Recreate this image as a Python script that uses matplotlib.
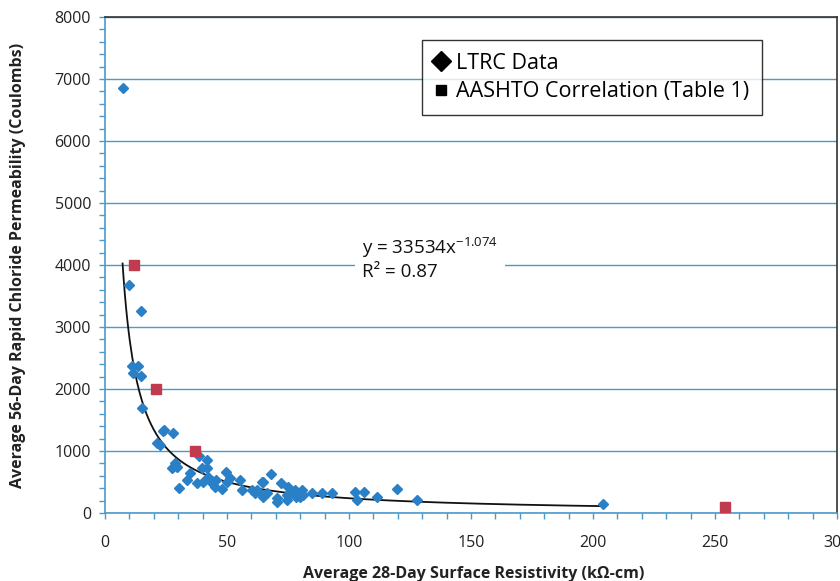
import numpy as np
import matplotlib
matplotlib.use("Agg")
import matplotlib.pyplot as plt
from matplotlib.lines import Line2D
from matplotlib.ticker import MultipleLocator

plt.rcParams['font.family'] = ['Open Sans', 'DejaVu Sans']
plt.rcParams['mathtext.fontset'] = 'custom'
plt.rcParams['mathtext.rm'] = 'Open Sans'

# LTRC data: 28-day surface resistivity (kOhm-cm) vs 56-day RCP (Coulombs)
ltrc_x = [7.2, 9.8, 10.9, 13.4, 11.6, 14.8, 14.6, 15.0,
          21.5, 22.5, 23.6, 24.2, 28.0, 27.3, 28.7, 29.4, 30.5, 33.5, 34.8,
          37.6, 38.7, 40.3, 39.6, 41.7, 41.7, 42.3, 43.7, 45.1, 45.5, 47.8,
          49.6, 50.2, 51.2, 55.3, 56.0, 60.1, 61.5, 62.5, 64.2, 64.6, 64.9,
          64.9, 66.2, 67.9, 70.4, 70.5, 72.0, 74.5, 74.5, 75.1, 75.8, 77.9,
          78.4, 79.9, 80.6, 81.3, 84.7, 88.8, 92.9, 102.5, 103.1, 106.1,
          111.6, 119.8, 127.7, 204.2]
ltrc_y = [6850, 3680, 2370, 2370, 2260, 2210, 3260, 1690,
          1124, 1097, 1328, 1339, 1285, 721, 801, 747, 398, 532, 640,
          479, 919, 505, 721, 855, 721, 586, 479, 414, 532, 382,
          667, 505, 559, 532, 371, 371, 317, 371, 505, 505, 290,
          263, 317, 624, 237, 183, 479, 210, 290, 424, 317, 371,
          263, 263, 371, 290, 317, 317, 317, 344, 210, 344,
          263, 382, 210, 145]

# AASHTO correlation (Table 1)
aashto_x = [12, 21, 37, 254]
aashto_y = [4000, 2000, 1000, 100]

# power trendline reported on the chart
fit_a = 33534
fit_b = -1.074

blue = '#2a80c6'
red = '#c13b4e'
axis_blue = '#4b9acb'

fig = plt.figure(figsize=(8.4, 5.81), dpi=100)
ax = fig.add_axes([0.125, 0.117, 0.8714, 0.8537])

ax.yaxis.grid(True, color=axis_blue, lw=1.0)
ax.set_axisbelow(True)

xf = np.linspace(min(ltrc_x), max(ltrc_x), 400)
ax.plot(xf, fit_a * xf ** fit_b, color='#111111', lw=1.3, zorder=2)
ax.plot(ltrc_x, ltrc_y, 'D', color=blue, ms=5.6, mec=blue, zorder=3)
ax.plot(aashto_x, aashto_y, 's', color=red, ms=7.2, mec=red, zorder=3)

ax.set_xlim(0, 300)
ax.set_ylim(0, 8000)
ax.xaxis.set_major_locator(MultipleLocator(50))
ax.xaxis.set_minor_locator(MultipleLocator(10))
ax.yaxis.set_major_locator(MultipleLocator(1000))
ax.yaxis.set_minor_locator(MultipleLocator(200))

for s in ['left', 'bottom']:
    ax.spines[s].set_color(axis_blue)
    ax.spines[s].set_linewidth(1.2)
for s in ['top', 'right']:
    ax.spines[s].set_color('#333333')
    ax.spines[s].set_linewidth(1.2)

ax.tick_params(axis='both', which='both', direction='out', color=axis_blue,
               length=4, width=1, labelsize=11.5, labelcolor='#222222')
ax.tick_params(axis='x', which='major', pad=12)
ax.tick_params(axis='y', which='major', pad=6)

ax.set_xlabel('Average 28-Day Surface Resistivity (k\u03a9-cm)',
              fontsize=11.5, fontweight='bold', color='#222222')
ax.set_ylabel('Average 56-Day Rapid Chloride Permeability (Coulombs)',
              fontsize=11.5, fontweight='bold', color='#222222')
ax.xaxis.set_label_coords(0.504, -0.107)
ax.yaxis.set_label_coords(-0.108, 0.5)

ax.text(0.351, 0.514,
        'y = 33534x$^{\\mathregular{\u22121.074}}$\nR\u00b2 = 0.87',
        transform=ax.transAxes, fontsize=13.5, color='#111111',
        va='center', ha='left', linespacing=1.25,
        bbox=dict(facecolor='white', edgecolor='none', pad=5))

handles = [Line2D([], [], ls='none', marker='D', color='black', ms=10),
           Line2D([], [], ls='none', marker='s', color='black', ms=6.5)]
leg = ax.legend(handles, ['LTRC Data', 'AASHTO Correlation (Table 1)'],
                loc='upper left', bbox_to_anchor=(0.433, 0.954),
                borderaxespad=0, fontsize=15.5, frameon=True, fancybox=False,
                handlelength=0.6, handletextpad=0.4, borderpad=0.6,
                labelspacing=0.35)
leg.get_frame().set_edgecolor('black')
leg.get_frame().set_linewidth(1.0)

fig.savefig('out.png', dpi=100)
